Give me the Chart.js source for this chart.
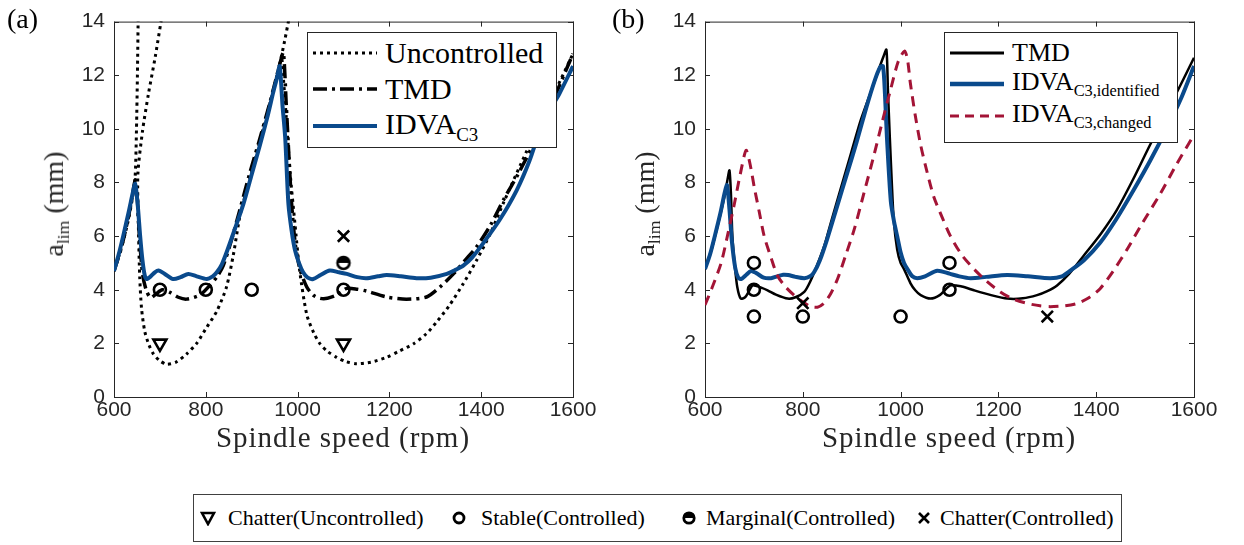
<!DOCTYPE html>
<html>
<head>
<meta charset="utf-8">
<script src="https://cdn.jsdelivr.net/npm/chart.js@4.4.1/dist/chart.umd.min.js"></script>
<style>
  body { margin: 0; background: #fff; }
  #wrap { position: relative; width: 1244px; height: 545px; background: #fff; overflow: hidden; }
  canvas { position: absolute; top: 0; }
  .serif { font-family: 'Liberation Serif', 'DejaVu Serif', serif; color: #262626; position: absolute; white-space: nowrap; }
  .panel { font-size: 28px; color: #000; }
  .xtitle { font-size: 29px; letter-spacing: 1px; transform: translateX(-50%); }
  .ytitle { font-size: 28px; transform: translate(-50%, -50%) rotate(-90deg); }
  .sub { font-size: 0.63em; vertical-align: -0.35em; }
  .legend { position: absolute; background: #fff; border: 1px solid #262626; }
  .row { position: absolute; display: flex; align-items: center; white-space: nowrap; font-family: 'Liberation Serif', 'DejaVu Serif', serif; color: #000; }
  .row svg { flex: none; }
</style>
</head>
<body>
<div id="wrap">
  <canvas id="chartA" width="600" height="470" style="left:0"></canvas>
  <canvas id="chartB" width="620" height="470" style="left:600px"></canvas>

  <div class="serif panel" style="left:7px;top:3px">(a)</div>
  <div class="serif panel" style="left:612px;top:3px">(b)</div>

  <div class="serif ytitle" style="left:56px;top:204px">a<span class="sub">lim</span> (mm)</div>
  <div class="serif ytitle" style="left:647px;top:204px">a<span class="sub">lim</span> (mm)</div>

  <div class="serif xtitle" style="left:343px;top:421px">Spindle speed (rpm)</div>
  <div class="serif xtitle" style="left:949px;top:421px">Spindle speed (rpm)</div>

  <!-- legend (a) -->
  <div class="legend" style="left:307px;top:32px;width:248px;height:114px">
    <div class="row" style="left:5px;top:2px;height:36px;font-size:30px">
      <svg width="64" height="10"><line x1="0" y1="5" x2="64" y2="5" stroke="#000" stroke-width="3" stroke-dasharray="3 4"/></svg>
      <span style="margin-left:8px">Uncontrolled</span>
    </div>
    <div class="row" style="left:5px;top:38px;height:36px;font-size:30px">
      <svg width="64" height="10"><line x1="0" y1="5" x2="64" y2="5" stroke="#000" stroke-width="3.5" stroke-dasharray="14 5 3 5"/></svg>
      <span style="margin-left:8px">TMD</span>
    </div>
    <div class="row" style="left:5px;top:74px;height:38px;font-size:30px">
      <svg width="64" height="10"><line x1="0" y1="5" x2="64" y2="5" stroke="#0a4a8c" stroke-width="4"/></svg>
      <span style="margin-left:8px">IDVA<span class="sub">C3</span></span>
    </div>
  </div>

  <!-- legend (b) -->
  <div class="legend" style="left:944px;top:32px;width:232px;height:109px">
    <div class="row" style="left:5px;top:4px;height:32px;font-size:26px">
      <svg width="54" height="10"><line x1="0" y1="5" x2="54" y2="5" stroke="#000" stroke-width="3"/></svg>
      <span style="margin-left:8px">TMD</span>
    </div>
    <div class="row" style="left:5px;top:35px;height:32px;font-size:26px">
      <svg width="54" height="10"><line x1="0" y1="5" x2="54" y2="5" stroke="#0a4a8c" stroke-width="4.5"/></svg>
      <span style="margin-left:8px">IDVA<span class="sub">C3,identified</span></span>
    </div>
    <div class="row" style="left:5px;top:67px;height:32px;font-size:26px">
      <svg width="54" height="10"><line x1="0" y1="5" x2="54" y2="5" stroke="#a31436" stroke-width="3" stroke-dasharray="9 6"/></svg>
      <span style="margin-left:8px">IDVA<span class="sub">C3,changed</span></span>
    </div>
  </div>

  <!-- marker legend -->
  <div class="legend" style="left:193px;top:494px;width:927px;height:46px;border-color:#404040">
    <div class="row" style="left:6px;top:6px;height:34px;font-size:22px">
      <svg width="16" height="16"><polygon points="2,3 14,3 8,14" fill="none" stroke="#000" stroke-width="2.6"/></svg>
      <span style="margin-left:12px">Chatter(Uncontrolled)</span>
    </div>
    <div class="row" style="left:257px;top:6px;height:34px;font-size:22px">
      <svg width="16" height="16"><circle cx="8" cy="8" r="5" fill="none" stroke="#000" stroke-width="2.8"/></svg>
      <span style="margin-left:14px">Stable(Controlled)</span>
    </div>
    <div class="row" style="left:487px;top:6px;height:34px;font-size:22px">
      <svg width="16" height="16"><path d="M2.5,8 A5.5,5.5 0 0 1 13.5,8 Z" fill="#000"/><circle cx="8" cy="8" r="5.2" fill="none" stroke="#000" stroke-width="2.8"/></svg>
      <span style="margin-left:9px">Marginal(Controlled)</span>
    </div>
    <div class="row" style="left:722px;top:6px;height:34px;font-size:22px">
      <svg width="16" height="16"><path d="M3,3 L13,13 M13,3 L3,13" stroke="#000" stroke-width="2.6"/></svg>
      <span style="margin-left:8px">Chatter(Controlled)</span>
    </div>
  </div>
</div>

<script>
// ---- data ----
// panel (a)
const uncX = [600, 615, 630, 640, 646, 649, 651, 653, 660,
  708, 690, 675, 662, 652, 653, 656, 660, 667, 676, 686, 700, 715, 735, 758, 780, 802, 824, 845, 860, 875, 900, 920, 945, 962, 972, 981, 986, 990,
  966, 975, 984, 994, 1005, 1020, 1035, 1049, 1065, 1085, 1105, 1129, 1160, 1194, 1220, 1252, 1280, 1303, 1330, 1360, 1390, 1420, 1450, 1500, 1550, 1600];
const uncY = [4.7, 5.5, 6.5, 7.4, 8.2, 10, 12, 14.6, null,
  14.6, 12.7, 11.3, 9.9, 8.3, 6.5, 4.5, 3.3, 2.45, 1.95, 1.6, 1.35, 1.22, 1.3, 1.6, 2.0, 2.6, 3.2, 4.1, 5.3, 6.8, 8.4, 9.7, 11.3, 12.5, 13.3, 14.1, 14.6, null,
  12.6, 10.5, 8.3, 6.5, 4.65, 3.07, 2.4, 1.98, 1.7, 1.48, 1.32, 1.24, 1.3, 1.48, 1.7, 1.98, 2.35, 2.8, 3.4, 4.2, 5.1, 6.1, 7.3, 9.2, 11.0, 12.8];

const tmdAX = [600, 615, 630, 640, 646, 650, 656, 663, 671, 680, 692, 705, 722, 740, 758, 787, 809, 825, 838, 855, 874, 895, 918, 940, 962, 969,
  975, 981, 987, 995, 1005, 1020, 1034, 1049, 1065, 1085, 1107, 1130, 1150, 1194, 1237, 1281, 1310, 1340, 1370, 1390, 1420, 1450, 1480, 1513, 1550, 1600];
const tmdAY = [4.7, 5.5, 6.6, 7.5, 8.1, 7.6, 5.8, 4.5, 3.95, 3.7, 3.85, 4.0, 3.9, 3.72, 3.65, 3.8, 4.17, 4.5, 4.9, 5.8, 6.97, 8.3, 9.65, 11.0, 12.47, 12.85,
  11.0, 9.0, 7.2, 5.7, 4.77, 4.1, 3.8, 3.68, 3.68, 3.8, 4.05, 4.02, 3.95, 3.73, 3.65, 3.73, 4.1, 4.6, 5.2, 5.6, 6.4, 7.4, 8.3, 9.4, 10.8, 12.8];

const idvaAX = [600, 610, 620, 632, 642, 646, 651, 657, 662, 667, 671, 680, 689, 697, 710, 729, 745, 762, 780, 802, 815, 824, 835, 845, 862, 882, 900, 918, 935, 947, 955, 961,
  967, 973, 980, 987, 994, 1003, 1012, 1022, 1034, 1050, 1070, 1090, 1107, 1130, 1150, 1175, 1194, 1225, 1259, 1290, 1325, 1345, 1361, 1380, 1405, 1440, 1477, 1505, 1535, 1570, 1600];
const idvaAY = [4.7, 5.3, 6.0, 6.9, 7.7, 7.95, 7.3, 6.0, 5.1, 4.53, 4.4, 4.5, 4.65, 4.72, 4.6, 4.4, 4.47, 4.59, 4.5, 4.4, 4.5, 4.65, 4.95, 5.38, 6.2, 7.2, 8.3, 9.4, 10.5, 11.37, 11.9, 12.34,
  10.9, 9.67, 7.2, 6.2, 5.5, 5.0, 4.65, 4.45, 4.4, 4.55, 4.72, 4.65, 4.59, 4.47, 4.43, 4.5, 4.55, 4.5, 4.43, 4.45, 4.59, 4.75, 4.9, 5.2, 5.75, 6.6, 7.7, 8.8, 10.27, 11.3, 12.34];

const chatterUncA = [[700, 2], [1100, 2]];
const stableA = [[700, 4], [800, 4], [900, 4], [1100, 4]];
const marginalA = [[1100, 5]];
const chatterCtrlA = [[1100, 6]];

// panel (b)
const tmdBX = [600, 615, 630, 640, 646, 650, 653, 656, 661, 666, 673, 682, 690, 697, 705, 715, 728, 745, 769, 785, 803, 815, 830, 845, 857, 878, 898, 918, 939, 955, 965, 971,
  974, 978, 982, 986, 993, 1000, 1007, 1020, 1030, 1041, 1061, 1080, 1102, 1125, 1150, 1185, 1218, 1250, 1279, 1300, 1320, 1345, 1374, 1410, 1442, 1475, 1510, 1555, 1600];
const tmdBY = [4.77, 5.6, 6.7, 7.5, 8.1, 8.45, 7.6, 6.0, 4.9, 4.1, 3.67, 3.72, 3.95, 4.16, 4.14, 4.08, 3.98, 3.82, 3.67, 3.72, 3.92, 4.3, 4.95, 5.7, 6.48, 7.8, 9.05, 10.3, 11.37, 12.2, 12.7, 12.95,
  11.5, 9.66, 8.0, 6.6, 5.5, 5.0, 4.77, 4.25, 3.98, 3.8, 3.67, 3.8, 4.16, 4.12, 3.98, 3.8, 3.67, 3.68, 3.8, 3.95, 4.16, 4.6, 5.26, 6.1, 6.97, 8.1, 9.4, 11.0, 12.65];

const idvaBX = [600, 610, 620, 632, 640, 645, 650, 655, 662, 668, 674, 684, 694, 705, 720, 735, 748, 760, 770, 785, 803, 815, 823, 835, 850, 870, 890, 910, 930, 947, 958, 964,
  968, 972, 980, 987, 993, 1000, 1007, 1014, 1024, 1034, 1050, 1075, 1100, 1120, 1143, 1175, 1218, 1260, 1306, 1330, 1347, 1375, 1408, 1440, 1476, 1510, 1544, 1575, 1600];
const idvaBY = [4.77, 5.3, 6.0, 6.9, 7.6, 7.9, 7.0, 5.8, 4.8, 4.45, 4.4, 4.55, 4.7, 4.62, 4.45, 4.43, 4.5, 4.56, 4.55, 4.48, 4.43, 4.5, 4.65, 5.1, 5.9, 7.1, 8.3, 9.5, 10.8, 11.8, 12.3, 12.34,
  11.3, 9.7, 7.3, 6.5, 6.0, 5.4, 5.0, 4.77, 4.5, 4.43, 4.5, 4.71, 4.6, 4.5, 4.43, 4.48, 4.55, 4.5, 4.43, 4.5, 4.71, 5.1, 5.75, 6.6, 7.7, 8.8, 10.0, 11.2, 12.34];

const changedBX = [600, 615, 633, 647, 660, 672, 684, 692, 701, 711, 721, 735, 748, 765, 782, 800, 816, 830, 843, 857, 871, 888, 905, 925, 946, 963, 980, 995, 1008,
  1014, 1020, 1030, 1041, 1054, 1068, 1085, 1102, 1125, 1150, 1177, 1204, 1230, 1259, 1285, 1306, 1335, 1361, 1385, 1408, 1435, 1463, 1495, 1531, 1565, 1600];
const changedBY = [3.43, 4.1, 5.0, 6.1, 7.2, 8.3, 9.2, 8.7, 7.8, 6.9, 6.0, 5.2, 4.53, 4.1, 3.8, 3.55, 3.37, 3.35, 3.49, 3.85, 4.4, 5.3, 6.24, 7.6, 9.05, 10.3, 11.5, 12.5, 12.9,
  12.6, 11.7, 10.5, 9.4, 8.4, 7.46, 6.7, 6.0, 5.3, 4.77, 4.3, 3.92, 3.65, 3.49, 3.4, 3.37, 3.4, 3.49, 3.7, 4.04, 4.7, 5.5, 6.5, 7.58, 8.7, 9.78];

const stableB = [[700, 5], [700, 4], [700, 3], [800, 3], [1000, 3], [1100, 5], [1100, 4]];
const chatterCtrlB = [[800, 3.5], [1300, 3]];

const xTicks = [600, 800, 1000, 1200, 1400, 1600];
const yTicks = [0, 2, 4, 6, 8, 10, 12, 14];

// ---- helpers ----
const BLUE = '#0a4a8c';
const RED = '#a31436';

function pts(xs, ys) { return xs.map((x, i) => ({ x: x, y: ys[i] })); }
function pairs(list) { return list.map(p => ({ x: p[0], y: p[1] })); }

function halfDisc() {
  const c = document.createElement('canvas');
  c.width = c.height = 18;
  const g = c.getContext('2d');
  g.fillStyle = '#000';
  g.beginPath(); g.arc(9, 9, 6, Math.PI, 0); g.closePath(); g.fill();
  g.lineWidth = 2.6; g.strokeStyle = '#000';
  g.beginPath(); g.arc(9, 9, 6, 0, 2 * Math.PI); g.stroke();
  return c;
}

function lineSet(data, color, width, dash, order) {
  return { data: data, showLine: true, borderColor: color, borderWidth: width, borderDash: dash || [],
    pointRadius: 0, tension: 0.25, spanGaps: false, borderCapStyle: 'butt', order: order };
}
function markSet(data, style, radius, rotation) {
  return { data: data, showLine: false, pointStyle: style, pointRadius: radius, pointRotation: rotation || 0,
    borderColor: '#000', pointBorderWidth: 2.6, backgroundColor: 'rgba(0,0,0,0)', order: 0 };
}

// box + inward tick marks, matlab style
const frameTicks = {
  id: 'frameTicks',
  beforeDatasetsDraw(chart) {
    const { ctx, chartArea: a, scales: { x, y } } = chart;
    ctx.save();
    ctx.strokeStyle = '#262626';
    ctx.lineWidth = 1;
    ctx.strokeRect(a.left + 0.5, a.top + 0.5, a.right - a.left, a.bottom - a.top);
    ctx.beginPath();
    xTicks.forEach(v => {
      const px = Math.round(x.getPixelForValue(v)) + 0.5;
      ctx.moveTo(px, a.bottom); ctx.lineTo(px, a.bottom - 5);
      ctx.moveTo(px, a.top); ctx.lineTo(px, a.top + 5);
    });
    yTicks.forEach(v => {
      const py = Math.round(y.getPixelForValue(v)) + 0.5;
      ctx.moveTo(a.left, py); ctx.lineTo(a.left + 5, py);
      ctx.moveTo(a.right, py); ctx.lineTo(a.right - 5, py);
    });
    ctx.stroke();
    ctx.restore();
  }
};

function makeOptions(yWidth, padRight) {
  const tickFont = { family: "'Liberation Sans', Arial, sans-serif", size: 21 };
  return {
    responsive: false,
    animation: false,
    devicePixelRatio: 1,
    layout: { autoPadding: false, padding: { left: 0, right: padRight, top: 15, bottom: 0 } },
    plugins: { legend: { display: false }, tooltip: { enabled: false } },
    scales: {
      x: {
        type: 'linear', min: 600, max: 1600,
        afterBuildTicks: s => { s.ticks = xTicks.map(v => ({ value: v })); },
        afterFit: s => { s.height = 73; },
        grid: { display: false, drawTicks: false },
        border: { display: false },
        ticks: { font: tickFont, color: '#262626', padding: 1, maxRotation: 0, callback: v => String(v) }
      },
      y: {
        type: 'linear', min: 0, max: 14,
        afterBuildTicks: s => { s.ticks = yTicks.map(v => ({ value: v })); },
        afterFit: s => { s.width = yWidth; },
        grid: { display: false, drawTicks: false },
        border: { display: false },
        ticks: { font: tickFont, color: '#262626', padding: 9, callback: v => String(v) }
      }
    }
  };
}

// panel (a)
new Chart(document.getElementById('chartA'), {
  type: 'scatter',
  data: {
    datasets: [
      markSet(pairs(chatterUncA), 'triangle', 7.5, 180),
      markSet(pairs(stableA), 'circle', 6),
      markSet(pairs(marginalA), halfDisc(), 8),
      markSet(pairs(chatterCtrlA), 'crossRot', 8),
      lineSet(pts(idvaAX, idvaAY), BLUE, 4, [], 1),
      lineSet(pts(tmdAX, tmdAY), '#000', 3.5, [14, 5, 3, 5], 2),
      lineSet(pts(uncX, uncY), '#000', 3, [3, 4], 3)
    ]
  },
  options: makeOptions(114, 27),
  plugins: [frameTicks]
});

// panel (b)
new Chart(document.getElementById('chartB'), {
  type: 'scatter',
  data: {
    datasets: [
      markSet(pairs(stableB), 'circle', 6),
      markSet(pairs(chatterCtrlB), 'crossRot', 8),
      lineSet(pts(changedBX, changedBY), RED, 3, [10, 7], 1),
      lineSet(pts(idvaBX, idvaBY), BLUE, 4, [], 2),
      lineSet(pts(tmdBX, tmdBY), '#000', 2.5, [], 3)
    ]
  },
  options: makeOptions(105, 26),
  plugins: [frameTicks]
});
</script>
</body>
</html>
